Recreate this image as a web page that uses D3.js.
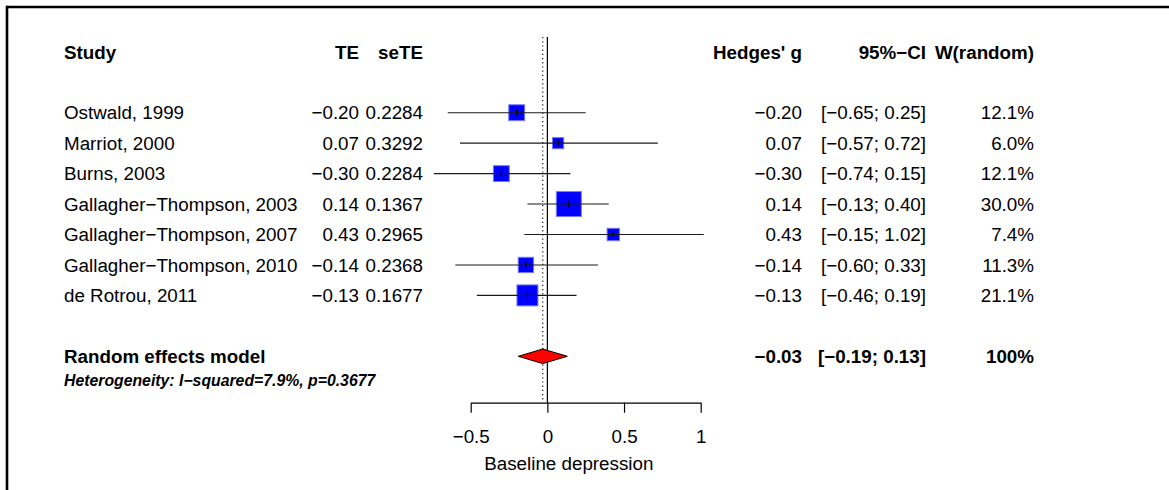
<!DOCTYPE html>
<html>
<head>
<meta charset="utf-8">
<script src="https://cdn.jsdelivr.net/npm/d3@7"></script>
<style>
  html, body { margin: 0; padding: 0; background: #fff; }
  svg text { font-family: "Liberation Sans", Arial, Helvetica, sans-serif; fill: #000; }
</style>
</head>
<body>
<svg id="chart" width="1169" height="490"></svg>
<script>
// Study-level results of the meta-analysis
const studies = ["Ostwald, 1999", "Marriot, 2000", "Burns, 2003",
  "Gallagher−Thompson, 2003", "Gallagher−Thompson, 2007",
  "Gallagher−Thompson, 2010", "de Rotrou, 2011"];
const te      = [-0.20, 0.07, -0.30, 0.14, 0.43, -0.14, -0.13];
const seTE    = ["0.2284", "0.3292", "0.2284", "0.1367", "0.2965", "0.2368", "0.1677"];
const ciLower = [-0.65, -0.57, -0.74, -0.13, -0.15, -0.60, -0.46];
const ciUpper = [0.25, 0.72, 0.15, 0.40, 1.02, 0.33, 0.19];
const weights = [12.1, 6.0, 12.1, 30.0, 7.4, 11.3, 21.1];

// Pooled random effects estimate
const pooledLabel = "Random effects model";
const pooled = [-0.03, -0.19, 0.13];   // estimate, lower, upper
const pooledWeight = "100%";
const heterogeneity = "Heterogeneity: I−squared=7.9%, p=0.3677";

// Column headings and axis
const headers = ["Study", "TE", "seTE", "Hedges' g", "95%−CI", "W(random)"];
const axisTicks = [-0.5, 0, 0.5, 1];
const xLabel = "Baseline depression";

const svg = d3.select("#chart");
const FS = 18.8;          // main text size
const half = FS * 0.358;  // half cap height, to centre text on a row

const x = d3.scaleLinear().domain([-0.5, 1]).range([470.7, 700.7]);
const row = d3.scaleLinear().domain([0, 1]).range([112.7, 143.15]);
const fmt2 = d3.format(".2f");
const fmtW = d3.format(".1f");
const side = d3.scaleSqrt().domain([0, 30]).range([0, 25]);

// columns: right edges (left edge for the study names)
const col = { study: 64, te: 359, se: 423, g: 802, ci: 926, w: 1034 };

// frame
svg.append("line").attr("x1", 7).attr("x2", 1169).attr("y1", 7).attr("y2", 7)
  .attr("stroke", "#000").attr("stroke-width", 2.6);
svg.append("line").attr("x1", 7).attr("x2", 7).attr("y1", 5.7).attr("y2", 490)
  .attr("stroke", "#000").attr("stroke-width", 2.6);

// headings
const hy = row(-2) + half;
const hdr = svg.append("g").attr("font-weight", "bold").attr("font-size", FS);
hdr.append("text").attr("x", col.study).attr("y", hy).text(headers[0]);
[[col.te, 1], [col.se, 2], [col.g, 3], [col.ci, 4], [col.w, 5]].forEach(([cx, i]) => {
  hdr.append("text").attr("x", cx).attr("y", hy).attr("text-anchor", "end").text(headers[i]);
});

// reference lines: null effect (solid) and pooled estimate (dotted)
const axisY = 402.7;
svg.append("line").attr("x1", x(0)).attr("x2", x(0)).attr("y1", 37).attr("y2", axisY)
  .attr("stroke", "#000").attr("stroke-width", 1.2);
svg.append("line").attr("x1", x(pooled[0])).attr("x2", x(pooled[0])).attr("y1", 37).attr("y2", axisY - 2)
  .attr("stroke", "#000").attr("stroke-width", 1.1).attr("stroke-dasharray", "1.2,3");

// study rows
const body = svg.append("g").attr("font-size", FS);
studies.forEach((s, i) => {
  const cy = row(i);
  const ty = cy + half;
  body.append("text").attr("x", col.study).attr("y", ty).text(s);
  body.append("text").attr("x", col.te).attr("y", ty).attr("text-anchor", "end").text(fmt2(te[i]));
  body.append("text").attr("x", col.se).attr("y", ty).attr("text-anchor", "end").text(seTE[i]);
  body.append("text").attr("x", col.g).attr("y", ty).attr("text-anchor", "end").text(fmt2(te[i]));
  body.append("text").attr("x", col.ci).attr("y", ty).attr("text-anchor", "end")
    .text("[" + fmt2(ciLower[i]) + "; " + fmt2(ciUpper[i]) + "]");
  body.append("text").attr("x", col.w).attr("y", ty).attr("text-anchor", "end").text(fmtW(weights[i]) + "%");

  const sd = side(weights[i]);
  svg.append("rect")
    .attr("x", x(te[i]) - sd / 2).attr("y", cy - sd / 2)
    .attr("width", sd).attr("height", sd)
    .attr("fill", "#0000ff").attr("stroke", "#7a7aff").attr("stroke-width", 1);
  svg.append("line")
    .attr("x1", x(ciLower[i])).attr("x2", x(ciUpper[i])).attr("y1", cy).attr("y2", cy)
    .attr("stroke", "#1a1a1a").attr("stroke-width", 1.1);
  svg.append("line")
    .attr("x1", x(te[i])).attr("x2", x(te[i])).attr("y1", cy - 3.5).attr("y2", cy + 3.5)
    .attr("stroke", "#000").attr("stroke-width", 1.2);
});

// pooled row
const py = row(8);
const pooledG = svg.append("g").attr("font-size", FS).attr("font-weight", "bold");
pooledG.append("text").attr("x", col.study).attr("y", py + half).text(pooledLabel);
pooledG.append("text").attr("x", col.g).attr("y", py + half).attr("text-anchor", "end").text(fmt2(pooled[0]));
pooledG.append("text").attr("x", col.ci).attr("y", py + half).attr("text-anchor", "end")
  .text("[" + fmt2(pooled[1]) + "; " + fmt2(pooled[2]) + "]");
pooledG.append("text").attr("x", col.w).attr("y", py + half).attr("text-anchor", "end").text(pooledWeight);

const dh = 7.3;
svg.append("path")
  .attr("d", d3.line()([[x(pooled[1]), py], [x(pooled[0]), py - dh], [x(pooled[2]), py], [x(pooled[0]), py + dh]]) + "Z")
  .attr("fill", "#ff0000").attr("stroke", "#000").attr("stroke-width", 1);

svg.append("text").attr("x", col.study).attr("y", row(8.8) + 5.6)
  .attr("font-size", 15.8).attr("font-weight", "bold").attr("font-style", "italic")
  .text(heterogeneity);

// x axis
const axis = d3.axisBottom(x).tickValues(axisTicks).tickSize(10).tickSizeOuter(0)
  .tickPadding(17).tickFormat(d3.format("~g"));
const ag = svg.append("g").attr("transform", `translate(0,${axisY})`).call(axis);
ag.selectAll("path, line").attr("stroke", "#000").attr("stroke-width", 1.2);
ag.selectAll("text").attr("font-size", FS).attr("fill", "#000")
  .attr("font-family", "'Liberation Sans', Arial, Helvetica, sans-serif");

const lo = d3.min(ciLower), hi = d3.max(ciUpper);
svg.append("text").attr("x", x((lo + hi) / 2)).attr("y", 470)
  .attr("text-anchor", "middle").attr("font-size", FS).text(xLabel);
</script>
</body>
</html>
